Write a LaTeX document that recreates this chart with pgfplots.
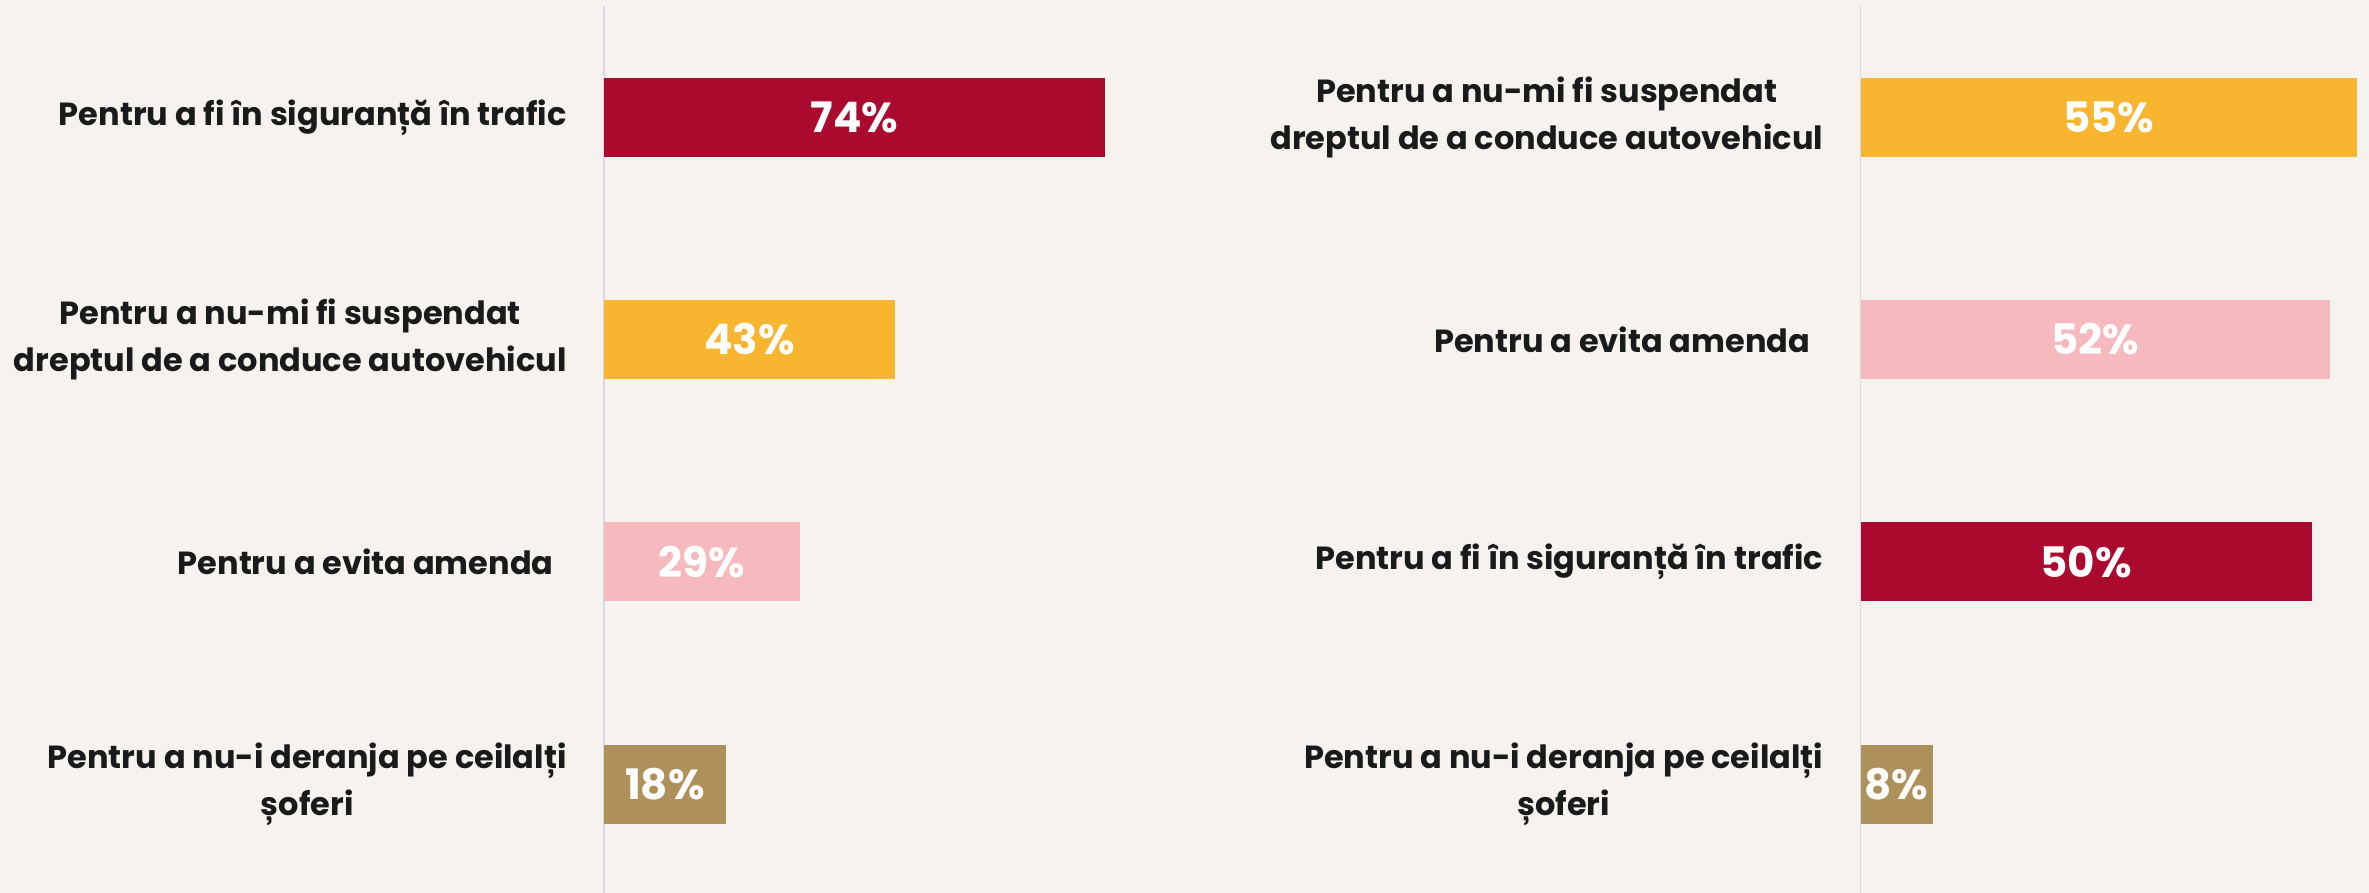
\documentclass[border=0pt]{standalone}
\usepackage{fontspec}
\setmainfont{Poppins}
\usepackage{pgfplots}
\pgfplotsset{compat=1.18}
\definecolor{bg}{HTML}{F6F3EE}
\definecolor{cred}{HTML}{A90A2E}
\definecolor{cyel}{HTML}{F8B530}
\definecolor{cpink}{HTML}{F6B9BE}
\definecolor{ctan}{HTML}{AE905A}
\definecolor{axcol}{HTML}{D9D6EA}
\definecolor{txt}{HTML}{1A1A1A}
\pgfplotsset{
  panel/.style={
    scale only axis, height=443.5pt,
    y dir=reverse, ymin=-0.5, ymax=3.49,
    hide x axis, axis y line*=left,
    axis line style={draw=axcol, line width=0.9pt},
    ytick={0,1,2,3}, ytick style={draw=none}, major tick length=0pt,
    yticklabel style={align=center, inner sep=0pt, xshift=-18.5pt, text=txt,
      font=\bfseries\fontsize{16}{23.5}\selectfont},
    clip=false, anchor=south west,
  },
  hb/.style={xbar, bar width=39.5pt, bar shift=0pt, draw=none, fill=#1},
  pct/.style={draw=none, mark=none, nodes near coords, point meta=explicit symbolic,
    every node near coord/.append style={anchor=center, text=white, inner sep=0pt,
      font=\bfseries\fontsize{21}{24}\selectfont}},
}
\begin{document}
\begin{tikzpicture}
\fill[bg] (0,0) rectangle (1184.5pt,446.5pt);
\begin{axis}[panel, at={(302pt,0pt)}, width=270.8pt, xmin=0, xmax=80,
  yticklabels={{Pentru a fi în siguranță în trafic},
    {Pentru a nu-mi fi suspendat\\dreptul de a conduce autovehicul},
    {Pentru a evita amenda\hspace*{6.5pt}},
    {Pentru a nu-i deranja pe ceilalți\\șoferi}}]
\addplot[hb=cred] coordinates {(74,0)};
\addplot[hb=cyel] coordinates {(43,1)};
\addplot[hb=cpink] coordinates {(29,2)};
\addplot[hb=ctan] coordinates {(18,3)};
\addplot[pct] coordinates {(37,0) [74\%] (21.5,1) [43\%] (14.5,2) [29\%] (9,3) [18\%]};
\end{axis}
\begin{axis}[panel, at={(930.25pt,0pt)}, width=254.2pt, xmin=0, xmax=56.3,
  yticklabels={{Pentru a nu-mi fi suspendat\\dreptul de a conduce autovehicul},
    {Pentru a evita amenda\hspace*{6.5pt}},
    {Pentru a fi în siguranță în trafic},
    {Pentru a nu-i deranja pe ceilalți\\șoferi}}]
\addplot[hb=cyel] coordinates {(55,0)};
\addplot[hb=cpink] coordinates {(52,1)};
\addplot[hb=cred] coordinates {(50,2)};
\addplot[hb=ctan] coordinates {(8,3)};
\addplot[pct] coordinates {(27.5,0) [55\%] (26,1) [52\%] (25,2) [50\%] (4,3) [8\%]};
\end{axis}
\pgfresetboundingbox
\path (0,0) rectangle (1184.5pt,446.5pt);
\end{tikzpicture}
\end{document}
